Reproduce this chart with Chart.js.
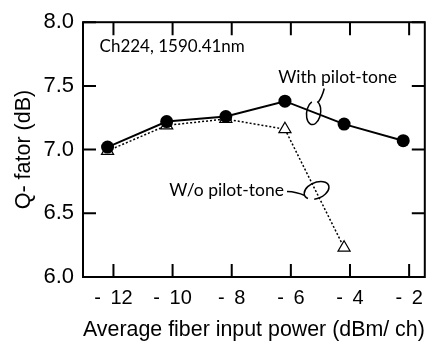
<!DOCTYPE html>
<html>
<head>
<meta charset="utf-8">
<script src="https://cdn.jsdelivr.net/npm/chart.js@4.4.1/dist/chart.umd.min.js"></script>
<style>
  html, body { margin: 0; padding: 0; background: #fff; overflow: hidden; }
  #wrap { width: 433px; height: 344px; }
</style>
</head>
<body>
<div id="wrap"><canvas id="qChart" width="433" height="344"></canvas></div>
<script>
// input power (dBm/ch) and measured Q-factor (dB)
const powerWith = [-12.2, -10.2, -8.2, -6.2, -4.2, -2.2];
const qWith = [7.02, 7.22, 7.26, 7.38, 7.20, 7.07];
const powerWithout = [-12.2, -10.2, -8.2, -6.2, -4.2];
const qWithout = [6.99, 7.19, 7.24, 7.16, 6.23];

const xTicks = [-12, -10, -8, -6, -4, -2];
const yTicks = [6.0, 6.5, 7.0, 7.5, 8.0];

const toPoints = (xs, ys) => xs.map((x, i) => ({ x: x, y: ys[i] }));

const AXIS_FONT = '"Liberation Sans", Arial, sans-serif';
const TICK_FONT = '"Liberation Sans Narrow", "Arial Narrow", "Liberation Sans", sans-serif';
const NOTE_FONT = 'Lato, sans-serif';

// frame around the plot with inward ticks on every side, plus the notes
const framePlugin = {
    id: 'frame',
    afterDraw(chart) {
        const { ctx, chartArea: a, scales } = chart;
        const xs = scales.x, ys = scales.y;
        const tick = 13;
        ctx.save();
        ctx.strokeStyle = '#000';
        ctx.lineWidth = 2;
        ctx.strokeRect(a.left, a.top, a.right - a.left, a.bottom - a.top);
        ctx.beginPath();
        xTicks.forEach(v => {
            const px = xs.getPixelForValue(v);
            ctx.moveTo(px, a.bottom); ctx.lineTo(px, a.bottom - tick);
            ctx.moveTo(px, a.top); ctx.lineTo(px, a.top + tick);
        });
        yTicks.forEach(v => {
            const py = ys.getPixelForValue(v);
            ctx.moveTo(a.left, py); ctx.lineTo(a.left + tick, py);
            ctx.moveTo(a.right, py); ctx.lineTo(a.right - tick, py);
        });
        ctx.stroke();

        const px = v => xs.getPixelForValue(v);
        const py = v => ys.getPixelForValue(v);

        ctx.fillStyle = '#000';
        ctx.font = '17px ' + NOTE_FONT;
        ctx.textBaseline = 'middle';
        ctx.textAlign = 'left';
        ctx.fillText('Ch224, 1590.41nm', px(-12.47), py(7.81));
        ctx.font = '17.5px ' + NOTE_FONT;
        ctx.textAlign = 'center';
        ctx.fillText('With pilot-tone', px(-4.42), py(7.565));
        ctx.fillText('W/o pilot-tone', px(-8.17), py(6.68));

        // curl marking the solid line
        ctx.lineWidth = 1.5;
        ctx.beginPath();
        ctx.moveTo(px(-4.87), py(7.48));
        ctx.quadraticCurveTo(px(-4.95), py(7.41), px(-5.07), py(7.374));
        ctx.stroke();
        ctx.beginPath();
        ctx.ellipse(px(-5.23), py(7.29), 7, 12, 0.15, -1.3, 4.2);
        ctx.stroke();

        // curl marking the dotted line
        ctx.beginPath();
        ctx.moveTo(px(-6.13), py(6.672));
        ctx.quadraticCurveTo(px(-5.8), py(6.67), px(-5.53), py(6.64));
        ctx.stroke();
        ctx.beginPath();
        ctx.ellipse(px(-5.13), py(6.68), 13, 8, -0.4, 2.6, 8.3);
        ctx.stroke();
        ctx.restore();
    }
};

new Chart(document.getElementById('qChart').getContext('2d'), {
    type: 'scatter',
    data: {
        datasets: [
            {
                label: 'With pilot-tone',
                data: toPoints(powerWith, qWith),
                showLine: true,
                borderColor: '#000',
                borderWidth: 2,
                pointStyle: 'circle',
                pointRadius: 6.5,
                pointBackgroundColor: '#000',
                pointBorderColor: '#000',
                pointBorderWidth: 0
            },
            {
                label: 'W/o pilot-tone',
                data: toPoints(powerWithout, qWithout),
                showLine: true,
                borderColor: '#000',
                borderWidth: 1.5,
                borderDash: [2, 2],
                pointStyle: 'triangle',
                pointRadius: 7,
                pointBackgroundColor: '#fff',
                pointBorderColor: '#000',
                pointBorderWidth: 1.2
            }
        ]
    },
    options: {
        responsive: false,
        animation: false,
        layout: { padding: { top: 15, right: 2, left: 0, bottom: 0 } },
        plugins: { legend: { display: false }, tooltip: { enabled: false } },
        scales: {
            x: {
                type: 'linear',
                min: -13.03,
                max: -1.47,
                afterBuildTicks: s => { s.ticks = xTicks.map(v => ({ value: v })); },
                afterFit: s => { s.height = 67; },
                grid: { display: false, drawTicks: false },
                border: { display: false },
                ticks: {
                    color: '#000',
                    padding: 9,
                    font: { family: TICK_FONT, size: 20 },
                    maxRotation: 0,
                    callback: v => '- \u2009' + Math.abs(v)
                },
                title: {
                    display: true,
                    text: 'Average fiber input power (dBm/ ch)',
                    color: '#000',
                    font: { family: AXIS_FONT, size: 21.5 },
                    padding: { top: 0, bottom: 1 }
                }
            },
            y: {
                type: 'linear',
                min: 6.0,
                max: 8.0,
                afterBuildTicks: s => { s.ticks = yTicks.map(v => ({ value: v })); },
                afterFit: s => { s.width = 83; },
                grid: { display: false, drawTicks: false },
                border: { display: false },
                ticks: {
                    color: '#000',
                    padding: 9,
                    font: { family: TICK_FONT, size: 22 },
                    callback: v => v.toFixed(1)
                },
                title: {
                    display: true,
                    text: 'Q- fator (dB)',
                    color: '#000',
                    font: { family: AXIS_FONT, size: 21.5 },
                    padding: { top: 11, bottom: 0 }
                }
            }
        }
    },
    plugins: [framePlugin]
});
</script>
</body>
</html>
